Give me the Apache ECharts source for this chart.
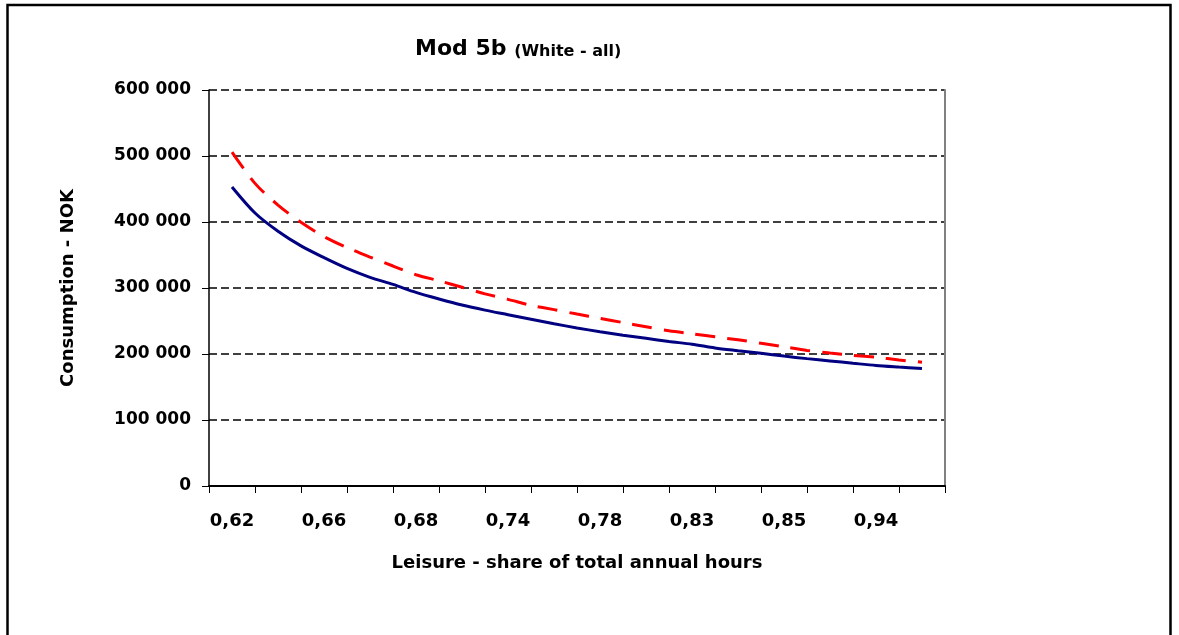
<!DOCTYPE html>
<html>
<head>
<meta charset="utf-8">
<script src="https://cdn.jsdelivr.net/npm/echarts@6/dist/echarts.min.js"></script>
<style>
html,body{margin:0;padding:0;background:#fff;}
#chart{width:1179px;height:635px;}
</style>
</head>
<body>
<div id="chart"></div>
<script>
// Visible category tick labels (every second of the 16 categories is labelled)
const tickLabels = ['0,62', '0,66', '0,68', '0,74', '0,78', '0,83', '0,85', '0,94'];
// Sample positions along the category scale (category index, half-category steps)
const samplePos = [0, 0.5, 1, 1.5, 2, 2.5, 3, 3.5, 4, 4.5, 5, 5.5, 6, 6.5, 7, 7.5,
                   8, 8.5, 9, 9.5, 10, 10.5, 11, 11.5, 12, 12.5, 13, 13.5, 14, 14.5, 15];
// Consumption (NOK), solid blue series
const blueValues = [453000, 413600, 386000, 363800, 346000, 329700, 316200, 305400, 293400, 283400,
                    274200, 266500, 259600, 252700, 245800, 239500, 233700, 228400, 223800, 219000,
                    214800, 209200, 205000, 201000, 196800, 193000, 189500, 186000, 182600, 180200, 178000];
// Consumption (NOK), dashed red series
const redValues  = [506000, 458500, 425700, 399500, 377900, 361300, 346900, 333300, 320100, 310900,
                    301100, 291100, 282800, 273800, 267200, 260500, 254100, 247600, 241200, 235100,
                    230600, 226000, 221500, 216300, 210900, 205400, 201500, 198000, 195000, 191000, 187500];
const yMin = 0, yMax = 600000, yStep = 100000;

const categories = tickLabels.flatMap(function (l) { return [l, '']; });
const bluePairs = samplePos.map(function (p, i) { return [p, blueValues[i]]; });
const redPairs = samplePos.map(function (p, i) { return [p, redValues[i]]; });
const FONT = 'DejaVu Sans';
const fmt = function (v) { return String(v).replace(/\B(?=(\d{3})+(?!\d))/g, ' '); };

const chart = echarts.init(document.getElementById('chart'), null, { renderer: 'canvas' });
chart.setOption({
  animation: false,
  backgroundColor: '#ffffff',
  textStyle: { fontFamily: FONT },
  title: {
    text: '{a|Mod 5b }{b|(White - all)}',
    left: 415, top: 38, padding: 0,
    textStyle: {
      rich: {
        a: { fontFamily: FONT, fontSize: 22, fontWeight: 'bold', color: '#000', lineHeight: 22, verticalAlign: 'bottom' },
        b: { fontFamily: FONT, fontSize: 16, fontWeight: 'bold', color: '#000', lineHeight: 16, verticalAlign: 'bottom' }
      }
    }
  },
  graphic: [{
    type: 'rect', silent: true, z: 100,
    shape: { x: 7.5, y: 5, width: 1163, height: 700 },
    style: { fill: 'none', stroke: '#000', lineWidth: 2.5 }
  }],
  grid: { left: 209, top: 90, width: 736, height: 396, containLabel: false },
  xAxis: [{
    type: 'category', data: categories, boundaryGap: true,
    axisLine: { show: true, onZero: false, lineStyle: { color: '#000', width: 2 } },
    axisTick: { show: true, interval: 0, length: 7, lineStyle: { color: '#000', width: 1 } },
    axisLabel: { interval: 0, margin: 26, fontFamily: FONT, fontSize: 18, fontWeight: 'bold', color: '#000' },
    splitLine: { show: false },
    name: 'Leisure - share of total annual hours', nameLocation: 'middle', nameGap: 68,
    nameTextStyle: { fontFamily: FONT, fontSize: 18, fontWeight: 'bold', color: '#000' }
  }, {
    type: 'value', min: -0.5, max: categories.length - 0.5, show: false,
    axisLine: { onZero: false }, splitLine: { show: false }
  }],
  yAxis: [{
    type: 'value', min: yMin, max: yMax, interval: yStep,
    axisLine: { show: true, onZero: false, lineStyle: { color: '#000', width: 1.5 } },
    axisTick: { show: true, length: 7, lineStyle: { color: '#000', width: 1 } },
    axisLabel: { margin: 18, fontFamily: FONT, fontSize: 17, fontWeight: 'bold', color: '#000', formatter: fmt },
    splitLine: { show: true, lineStyle: { color: '#000', width: 1.5, type: [8, 4] } },
    name: 'Consumption - NOK', nameLocation: 'middle', nameGap: 132, nameRotate: 90,
    nameTextStyle: { fontFamily: FONT, fontSize: 18, fontWeight: 'bold', color: '#000' }
  }, {
    type: 'value', position: 'right', min: yMin, max: yMax, interval: yStep,
    axisLine: { show: true, onZero: false, lineStyle: { color: '#808080', width: 2 } },
    axisTick: { show: false }, axisLabel: { show: false }, splitLine: { show: false }
  }],
  series: [{
    type: 'line', name: 'blue', xAxisIndex: 1, yAxisIndex: 0, data: bluePairs, symbol: 'none', smooth: 0.3,
    lineStyle: { color: '#000080', width: 3 }, itemStyle: { color: '#000080' }, z: 3
  }, {
    type: 'line', name: 'red', xAxisIndex: 1, yAxisIndex: 0, data: redPairs, symbol: 'none', smooth: 0.3,
    lineStyle: { color: '#ff0000', width: 3, type: [20, 12] }, itemStyle: { color: '#ff0000' }, z: 4
  }]
});
</script>
</body>
</html>
